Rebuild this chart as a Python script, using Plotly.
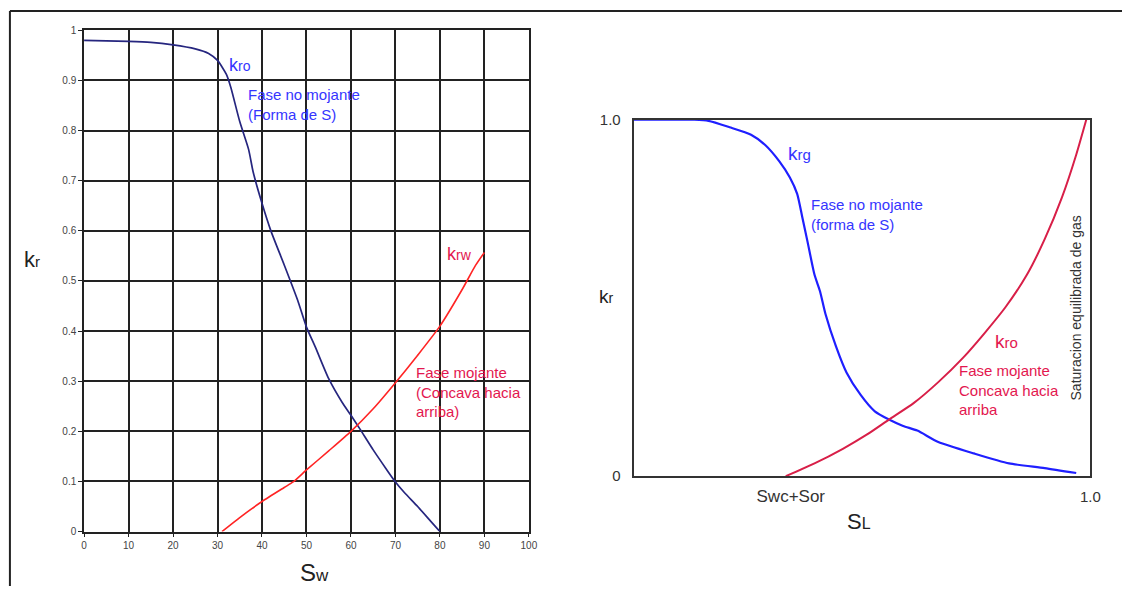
import plotly.graph_objects as go

# ---------------- data: left chart (Sw in %, kr) ----------------
sw_kro = [0, 5, 10, 15, 20, 25, 28, 30, 32, 33, 35, 37, 38, 40, 42, 45, 48, 50, 52, 55, 58, 60, 62, 65, 68, 70, 72, 75, 78, 80]
kro_left = [0.980, 0.979, 0.978, 0.976, 0.971, 0.963, 0.954, 0.940, 0.912, 0.886, 0.818, 0.762, 0.718, 0.655, 0.600, 0.532, 0.462, 0.408, 0.368, 0.305, 0.258, 0.232, 0.205, 0.163, 0.124, 0.099, 0.078, 0.050, 0.020, 0.0]

sw_krw = [31, 35, 40, 45, 47, 50, 55, 60, 65, 70, 75, 80, 85, 88, 90]
krw_left = [0.0, 0.028, 0.060, 0.088, 0.099, 0.123, 0.161, 0.200, 0.245, 0.297, 0.352, 0.410, 0.483, 0.531, 0.557]

# ---------------- data: right chart (SL normalised, kr) ----------------
sl_krg = [0.0, 0.133, 0.164, 0.21, 0.257, 0.288, 0.319, 0.342, 0.358, 0.369, 0.381, 0.396, 0.408, 0.420, 0.443, 0.466, 0.497, 0.528, 0.559, 0.590, 0.621, 0.667, 0.745, 0.822, 0.90, 0.969]
krg_right = [1.0, 1.0, 0.997, 0.979, 0.958, 0.929, 0.883, 0.838, 0.792, 0.728, 0.656, 0.565, 0.519, 0.455, 0.364, 0.291, 0.228, 0.182, 0.159, 0.141, 0.128, 0.096, 0.064, 0.036, 0.023, 0.009]

sl_kro = [0.333, 0.396, 0.458, 0.512, 0.559, 0.613, 0.667, 0.721, 0.768, 0.814, 0.861, 0.90, 0.938, 0.969, 0.991]
kro_right = [0.0, 0.036, 0.077, 0.118, 0.159, 0.205, 0.264, 0.332, 0.401, 0.474, 0.565, 0.665, 0.783, 0.902, 1.0]

left_xticks = [0, 10, 20, 30, 40, 50, 60, 70, 80, 90, 100]
left_yticks = [0, 0.1, 0.2, 0.3, 0.4, 0.5, 0.6, 0.7, 0.8, 0.9, 1]
left_ytext = ["0", "0.1", "0.2", "0.3", "0.4", "0.5", "0.6", "0.7", "0.8", "0.9", "1"]
right_xticks = [0.344, 1.0]
right_xtext = ["<span style='font-size:17px'>Swc+Sor</span>", "1.0"]
right_yticks = [0, 1.0]
right_ytext = ["0", "1.0"]

W, H = 1132, 594
def px(x):
    return x / W
def py(y):
    return (H - y) / H

BLUE_TXT = "#3535ff"
RED_TXT = "#e3174f"
FONT = "Liberation Sans, Arial, sans-serif"

fig = go.Figure()

fig.add_trace(go.Scatter(x=sw_kro, y=kro_left, mode="lines", xaxis="x", yaxis="y",
                         line=dict(color="#26267f", width=1.7, shape="spline", smoothing=0.6),
                         showlegend=False, hoverinfo="skip"))
fig.add_trace(go.Scatter(x=sw_krw, y=krw_left, mode="lines", xaxis="x", yaxis="y",
                         line=dict(color="#ff2424", width=1.6, shape="spline", smoothing=0.6),
                         showlegend=False, hoverinfo="skip"))
fig.add_trace(go.Scatter(x=sl_krg, y=krg_right, mode="lines", xaxis="x2", yaxis="y2",
                         line=dict(color="#1f1fff", width=2.2, shape="spline", smoothing=0.6),
                         showlegend=False, hoverinfo="skip"))
fig.add_trace(go.Scatter(x=sl_kro, y=kro_right, mode="lines", xaxis="x2", yaxis="y2",
                         line=dict(color="#d81f48", width=2.0, shape="spline", smoothing=0.6),
                         showlegend=False, hoverinfo="skip"))

grid = "#222222"
fig.update_layout(
    width=W, height=H,
    margin=dict(l=0, r=0, t=0, b=0),
    paper_bgcolor="white", plot_bgcolor="white",
    font=dict(family=FONT, color="#333333"),
    xaxis=dict(domain=[px(82), px(532)], range=[0, 100], tickvals=left_xticks,
               showgrid=True, gridcolor=grid, gridwidth=1.6, zeroline=False,
               showline=True, linecolor=grid, linewidth=1.6, mirror=True,
               ticks="outside", ticklen=4, tickcolor=grid, tickwidth=1.4,
               tickfont=dict(size=10, color="#444444"), anchor="y", fixedrange=True),
    yaxis=dict(domain=[py(538), py(22)], range=[0, 1], tickvals=left_yticks, ticktext=left_ytext,
               showgrid=True, gridcolor=grid, gridwidth=1.6, zeroline=False,
               showline=True, linecolor=grid, linewidth=1.6, mirror=True,
               ticks="outside", ticklen=4, tickcolor=grid, tickwidth=1.4,
               tickfont=dict(size=10, color="#444444"), anchor="x", fixedrange=True),
    xaxis2=dict(domain=[px(638), px(1100)], range=[0, 1], tickvals=right_xticks, ticktext=right_xtext,
                showgrid=False, zeroline=False,
                showline=True, linecolor="#333333", linewidth=2, mirror=True,
                ticks="outside", ticklen=6, tickcolor="rgba(0,0,0,0)",
                tickfont=dict(size=15, color="#333333"), anchor="y2", fixedrange=True),
    yaxis2=dict(domain=[py(481), py(114)], range=[0, 1], tickvals=right_yticks, ticktext=right_ytext,
                showgrid=False, zeroline=False,
                showline=True, linecolor="#333333", linewidth=2, mirror=True,
                ticks="outside", ticklen=8, tickcolor="rgba(0,0,0,0)",
                tickfont=dict(size=15, color="#333333"), anchor="x2", fixedrange=True),
)

ann = []
def note(text, x, y, ref, color, size, xanchor="left", yanchor="middle", angle=0):
    xr, yr = ref
    ann.append(dict(text=text, x=x, y=y, xref=xr, yref=yr, showarrow=False,
                    xanchor=xanchor, yanchor=yanchor, align="left", textangle=angle,
                    font=dict(family=FONT, size=size, color=color)))

# left chart labels (data coords)
note("k<span style='font-size:14px'>ro</span>", 32.2, 0.930, ("x", "y"), BLUE_TXT, 18)
note("Fase no mojante<br>(Forma de S)", 36.4, 0.853, ("x", "y"), BLUE_TXT, 15)
note("k<span style='font-size:14px'>rw</span>", 81.1, 0.554, ("x", "y"), RED_TXT, 18)
note("Fase mojante<br>(Concava hacia<br>arriba)", 74.2, 0.279, ("x", "y"), RED_TXT, 15)

# right chart labels (data coords)
note("k<span style='font-size:15px'>rg</span>", 0.334, 0.906, ("x2", "y2"), BLUE_TXT, 19)
note("Fase no mojante<br>(forma de S)", 0.383, 0.735, ("x2", "y2"), BLUE_TXT, 15)
note("k<span style='font-size:15px'>ro</span>", 0.787, 0.378, ("x2", "y2"), RED_TXT, 19)
note("Fase mojante<br>Concava hacia<br>arriba", 0.707, 0.241, ("x2", "y2"), RED_TXT, 15)
note("Saturacion equilibrada de gas", 0.9675, 0.472, ("x2", "y2"), "#333333", 14,
     xanchor="center", angle=-90)

# axis titles (paper coords)
note("k<span style='font-size:15px'>r</span>", px(29.5), py(258), ("paper", "paper"), "#222222", 22, xanchor="center")
note("S<span style='font-size:17px'>w</span>", px(315), py(580), ("paper", "paper"), "#222222", 24, xanchor="center")
note("k<span style='font-size:14px'>r</span>", px(611), py(296), ("paper", "paper"), "#222222", 19, xanchor="center")
note("S<span style='font-size:16px'>L</span>", px(866), py(528), ("paper", "paper"), "#222222", 22, xanchor="center")

fig.update_layout(annotations=ann)

# outer frame (top and left edges)
fig.add_shape(type="line", xref="paper", yref="paper", x0=px(7), x1=1, y0=py(2), y1=py(2),
              line=dict(color="#222222", width=2))
fig.add_shape(type="line", xref="paper", yref="paper", x0=px(7), x1=px(7), y0=0, y1=py(2),
              line=dict(color="#222222", width=2))

fig.write_html("out.html", config={"displayModeBar": False})
